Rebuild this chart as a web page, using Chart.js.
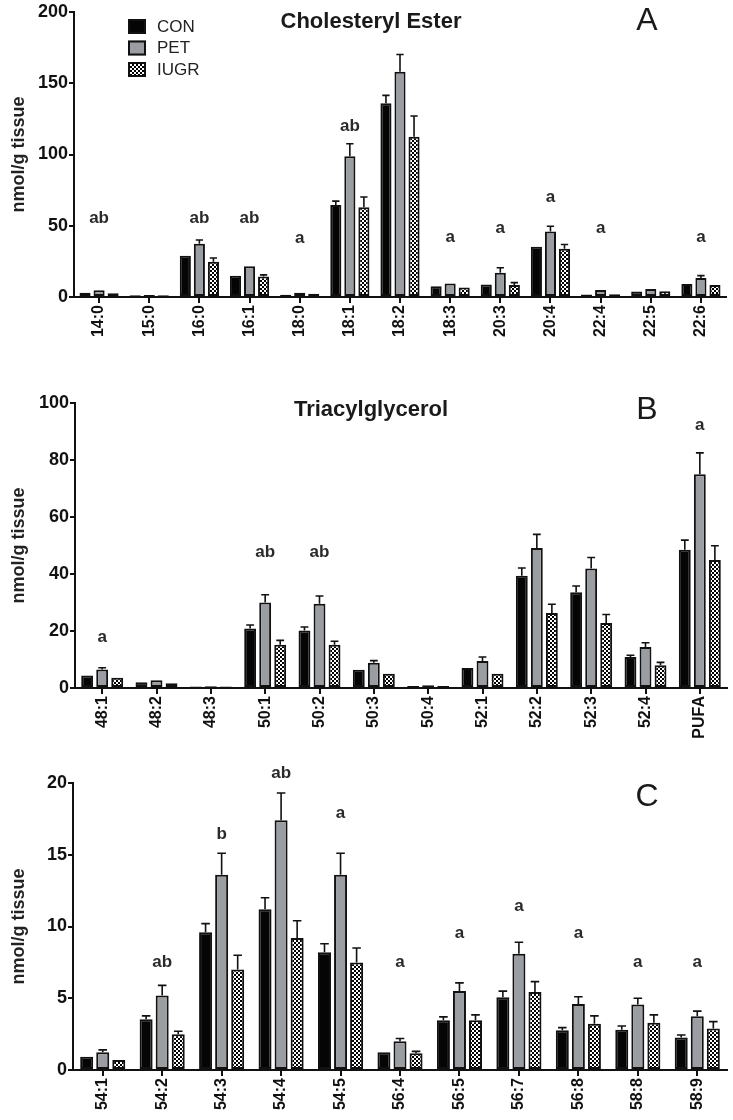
<!DOCTYPE html>
<html>
<head>
<meta charset="utf-8">
<script src="https://cdn.jsdelivr.net/npm/chart.js@4.4.1/dist/chart.umd.min.js"></script>
<style>
  html, body { margin: 0; padding: 0; background: #fff; }
  #wrap { position: relative; width: 733px; height: 1120px; overflow: hidden; }
  canvas { position: absolute; left: 0; }
</style>
</head>
<body>
<div id="wrap">
  <canvas id="chartA" width="733" height="340" style="top:0"></canvas>
  <canvas id="chartC" width="733" height="400" style="top:720px"></canvas>
  <canvas id="chartB" width="733" height="420" style="top:340px"></canvas>
</div>
<script>
// ---- panel A: cholesteryl ester ----
const catsA = ["14:0", "15:0", "16:0", "16:1", "18:0", "18:1", "18:2", "18:3", "20:3", "20:4", "22:4", "22:5", "22:6"];
const conA = [3.0, 1.2, 29, 15, 1.5, 64.5, 136, 7.5, 8.8, 35.3, 1.8, 3.8, 9.2];
const conSemA = [0.3, 0.2, 1.0, 0.6, 0.3, 2.8, 5.5, 0.4, 0.5, 0.8, 0.3, 0.3, 0.6];
const petA = [4.8, 1.4, 37.3, 21.5, 3.0, 98.8, 158, 9.5, 17, 46, 5.0, 5.6, 13.4];
const petSemA = [0.5, 0.2, 2.7, 1.0, 0.4, 8.7, 12.2, 0.6, 3.5, 3.7, 0.8, 0.4, 1.6];
const iugrA = [2.7, 1.2, 24.8, 14.3, 2.2, 63, 112.5, 6.6, 8.5, 33.8, 2.0, 4.0, 8.4];
const iugrSemA = [0.4, 0.1, 2.6, 1.2, 0.3, 7.2, 14.5, 0.5, 1.6, 3.0, 0.3, 0.4, 0.7];
const lettersA = ["ab", "", "ab", "ab", "a", "ab", "", "a", "a", "a", "a", "", "a"];
const letterYA = [55, null, 55, 55, 41, 119.6, null, 42, 48.5, 70, 48.5, null, 42];

// ---- panel B: triacylglycerol ----
const catsB = ["48:1", "48:2", "48:3", "50:1", "50:2", "50:3", "50:4", "52:1", "52:2", "52:3", "52:4", "PUFA"];
const conB = [4.4, 2.0, 0.5, 20.9, 20.2, 6.4, 0.7, 7.0, 39.4, 33.6, 10.9, 48.5];
const conSemB = [0.3, 0.2, 0.1, 1.2, 1.2, 0.4, 0.1, 0.4, 2.7, 2.2, 0.6, 3.4];
const petB = [6.5, 2.7, 0.6, 30.0, 29.6, 8.9, 1.0, 9.5, 49.1, 41.9, 14.4, 75.0];
const petSemB = [0.6, 0.3, 0.1, 2.7, 2.7, 0.7, 0.2, 1.4, 4.8, 3.9, 1.5, 7.5];
const iugrB = [3.6, 1.7, 0.5, 15.2, 15.2, 5.0, 0.7, 5.0, 26.3, 22.8, 8.0, 44.9];
const iugrSemB = [0.3, 0.2, 0.1, 1.5, 1.2, 0.5, 0.1, 0.4, 3.1, 3.0, 1.0, 5.0];
const lettersB = ["a", "", "", "ab", "ab", "", "", "", "", "", "", "a"];
const letterYB = [17.9, null, null, 47.5, 47.5, null, null, null, null, null, null, 92];

// ---- panel C ----
const catsC = ["54:1", "54:2", "54:3", "54:4", "54:5", "56:4", "56:5", "56:7", "56:8", "58:8", "58:9"];
const conC = [0.93, 3.53, 9.6, 11.2, 8.2, 1.23, 3.47, 5.07, 2.77, 2.8, 2.26];
const conSemC = [0.05, 0.24, 0.6, 0.8, 0.6, 0.05, 0.23, 0.43, 0.18, 0.27, 0.18];
const petC = [1.23, 5.2, 13.6, 17.4, 13.6, 2.0, 5.5, 8.1, 4.6, 4.56, 3.74];
const petSemC = [0.17, 0.7, 1.5, 1.9, 1.5, 0.2, 0.57, 0.8, 0.5, 0.44, 0.36];
const iugrC = [0.7, 2.5, 7.0, 9.2, 7.5, 1.16, 3.47, 5.44, 3.23, 3.3, 2.9];
const iugrSemC = [0.04, 0.2, 1.0, 1.2, 1.0, 0.14, 0.37, 0.72, 0.54, 0.54, 0.47];
const lettersC = ["", "ab", "b", "ab", "a", "a", "a", "a", "a", "a", "a"];
const letterYC = [null, 7.5, 16.4, 20.7, 17.9, 7.5, 9.5, 11.4, 9.5, 7.5, 7.5];

const groupNames = ["CON", "PET", "IUGR"];

const FONT = "'Liberation Sans', Arial, Helvetica, sans-serif";
const INK = "#111";

// checkerboard fill for the IUGR bars
function checkerPattern() {
  const c = document.createElement("canvas");
  c.width = 4;
  c.height = 4;
  const g = c.getContext("2d");
  g.fillStyle = "#fff";
  g.fillRect(0, 0, 4, 4);
  g.fillStyle = "#000";
  g.fillRect(0, 0, 2, 2);
  g.fillRect(2, 2, 2, 2);
  return g.createPattern(c, "repeat");
}
const checker = checkerPattern();
const fills = ["#050505", "#9a9da2", checker];

// error bars, significance letters, title, panel letter, legend
const decor = {
  id: "decor",
  afterDatasetsDraw(chart, args, o) {
    const ctx = chart.ctx;
    const ys = chart.scales.y;
    const xs = chart.scales.x;
    ctx.save();
    ctx.strokeStyle = INK;
    ctx.lineWidth = 1.6;
    chart.data.datasets.forEach((ds, i) => {
      chart.getDatasetMeta(i).data.forEach((bar, j) => {
        const top = ys.getPixelForValue(ds.data[j] + ds.sem[j]);
        if (bar.y - top < 1.5) return;
        const half = bar.width * 0.33;
        ctx.beginPath();
        ctx.moveTo(bar.x, bar.y);
        ctx.lineTo(bar.x, top);
        ctx.moveTo(bar.x - half, top);
        ctx.lineTo(bar.x + half, top);
        ctx.stroke();
      });
    });

    ctx.fillStyle = "#2a2a2a";
    ctx.font = "bold 17px " + FONT;
    ctx.textAlign = "center";
    ctx.textBaseline = "middle";
    o.letters.forEach((txt, j) => {
      if (!txt) return;
      ctx.fillText(txt, xs.getPixelForValue(j), ys.getPixelForValue(o.letterY[j]));
    });

    if (o.title) {
      ctx.fillStyle = "#1a1a1a";
      ctx.font = "bold 22px " + FONT;
      ctx.fillText(o.title, o.titleX, o.titleY);
    }
    ctx.fillStyle = "#1a1a1a";
    ctx.font = "32px " + FONT;
    ctx.fillText(o.tag, 647, o.tagY);

    if (o.legend) {
      ctx.textAlign = "left";
      ctx.font = "17px " + FONT;
      chart.data.datasets.forEach((ds, i) => {
        const by = 19 + i * 21.5;
        ctx.fillStyle = ds.backgroundColor;
        ctx.fillRect(128, by, 18, 15);
        ctx.lineWidth = 2;
        ctx.strokeRect(129, by + 1, 16, 13);
        ctx.fillStyle = "#222";
        ctx.fillText(ds.label, 157, by + 8);
      });
    }
    ctx.restore();
  },
};

function makePanel(id, p) {
  const canvas = document.getElementById(id);
  const H = canvas.height;
  const series = [
    [p.con, p.conSem],
    [p.pet, p.petSem],
    [p.iugr, p.iugrSem],
  ];
  return new Chart(canvas.getContext("2d"), {
    type: "bar",
    data: {
      labels: p.cats,
      datasets: series.map((s, i) => ({
        label: groupNames[i],
        data: s[0],
        sem: s[1],
        backgroundColor: fills[i],
        borderColor: INK,
        borderWidth: 2,
        borderSkipped: false,
        categoryPercentage: p.catPct,
        barPercentage: p.barPct,
      })),
    },
    options: {
      responsive: false,
      animation: false,
      devicePixelRatio: 1,
      layout: { padding: { top: p.top, right: 733 - p.right, left: 0, bottom: 0 } },
      plugins: {
        legend: { display: false },
        tooltip: { enabled: false },
        decor: {
          letters: p.letters,
          letterY: p.letterY,
          title: p.title,
          titleX: 371,
          titleY: p.titleY,
          tag: p.tag,
          tagY: p.tagY,
          legend: p.legend,
        },
      },
      scales: {
        x: {
          afterFit: (s) => { s.height = H - p.bottom; },
          grid: { offset: false, drawOnChartArea: false, color: INK, lineWidth: 2, tickLength: 6 },
          border: { color: INK, width: 2 },
          ticks: {
            minRotation: 90,
            maxRotation: 90,
            padding: 2,
            color: INK,
            font: { family: FONT, size: 16, weight: "bold" },
          },
        },
        y: {
          min: 0,
          max: p.yMax,
          afterFit: (s) => { s.width = p.left; },
          grid: { drawOnChartArea: false, color: INK, lineWidth: 2, tickLength: 5 },
          border: { color: INK, width: 2 },
          ticks: {
            stepSize: p.yStep,
            padding: 1,
            color: INK,
            font: { family: FONT, size: 18, weight: "bold" },
          },
          title: {
            display: true,
            text: "nmol/g tissue",
            color: "#222",
            padding: { top: 8, bottom: 0 },
            font: { family: FONT, size: 18, weight: "bold" },
          },
        },
      },
    },
    plugins: [decor],
  });
}

makePanel("chartA", {
  cats: catsA, con: conA, conSem: conSemA, pet: petA, petSem: petSemA, iugr: iugrA, iugrSem: iugrSemA,
  letters: lettersA, letterY: letterYA,
  yMax: 200, yStep: 50,
  left: 74, right: 726, top: 12, bottom: 297,
  catPct: 0.84, barPct: 0.79,
  title: "Cholesteryl Ester", titleY: 22, tag: "A", tagY: 21, legend: true,
});

makePanel("chartB", {
  cats: catsB, con: conB, conSem: conSemB, pet: petB, petSem: petSemB, iugr: iugrB, iugrSem: iugrSemB,
  letters: lettersB, letterY: letterYB,
  yMax: 100, yStep: 20,
  left: 75, right: 727, top: 63, bottom: 348,
  catPct: 0.83, barPct: 0.79,
  title: "Triacylglycerol", titleY: 70, tag: "B", tagY: 70, legend: false,
});

makePanel("chartC", {
  cats: catsC, con: conC, conSem: conSemC, pet: petC, petSem: petSemC, iugr: iugrC, iugrSem: iugrSemC,
  letters: lettersC, letterY: letterYC,
  yMax: 20, yStep: 5,
  left: 73, right: 727, top: 63, bottom: 350,
  catPct: 0.81, barPct: 0.81,
  title: "", titleY: 0, tag: "C", tagY: 77, legend: false,
});
</script>
</body>
</html>
